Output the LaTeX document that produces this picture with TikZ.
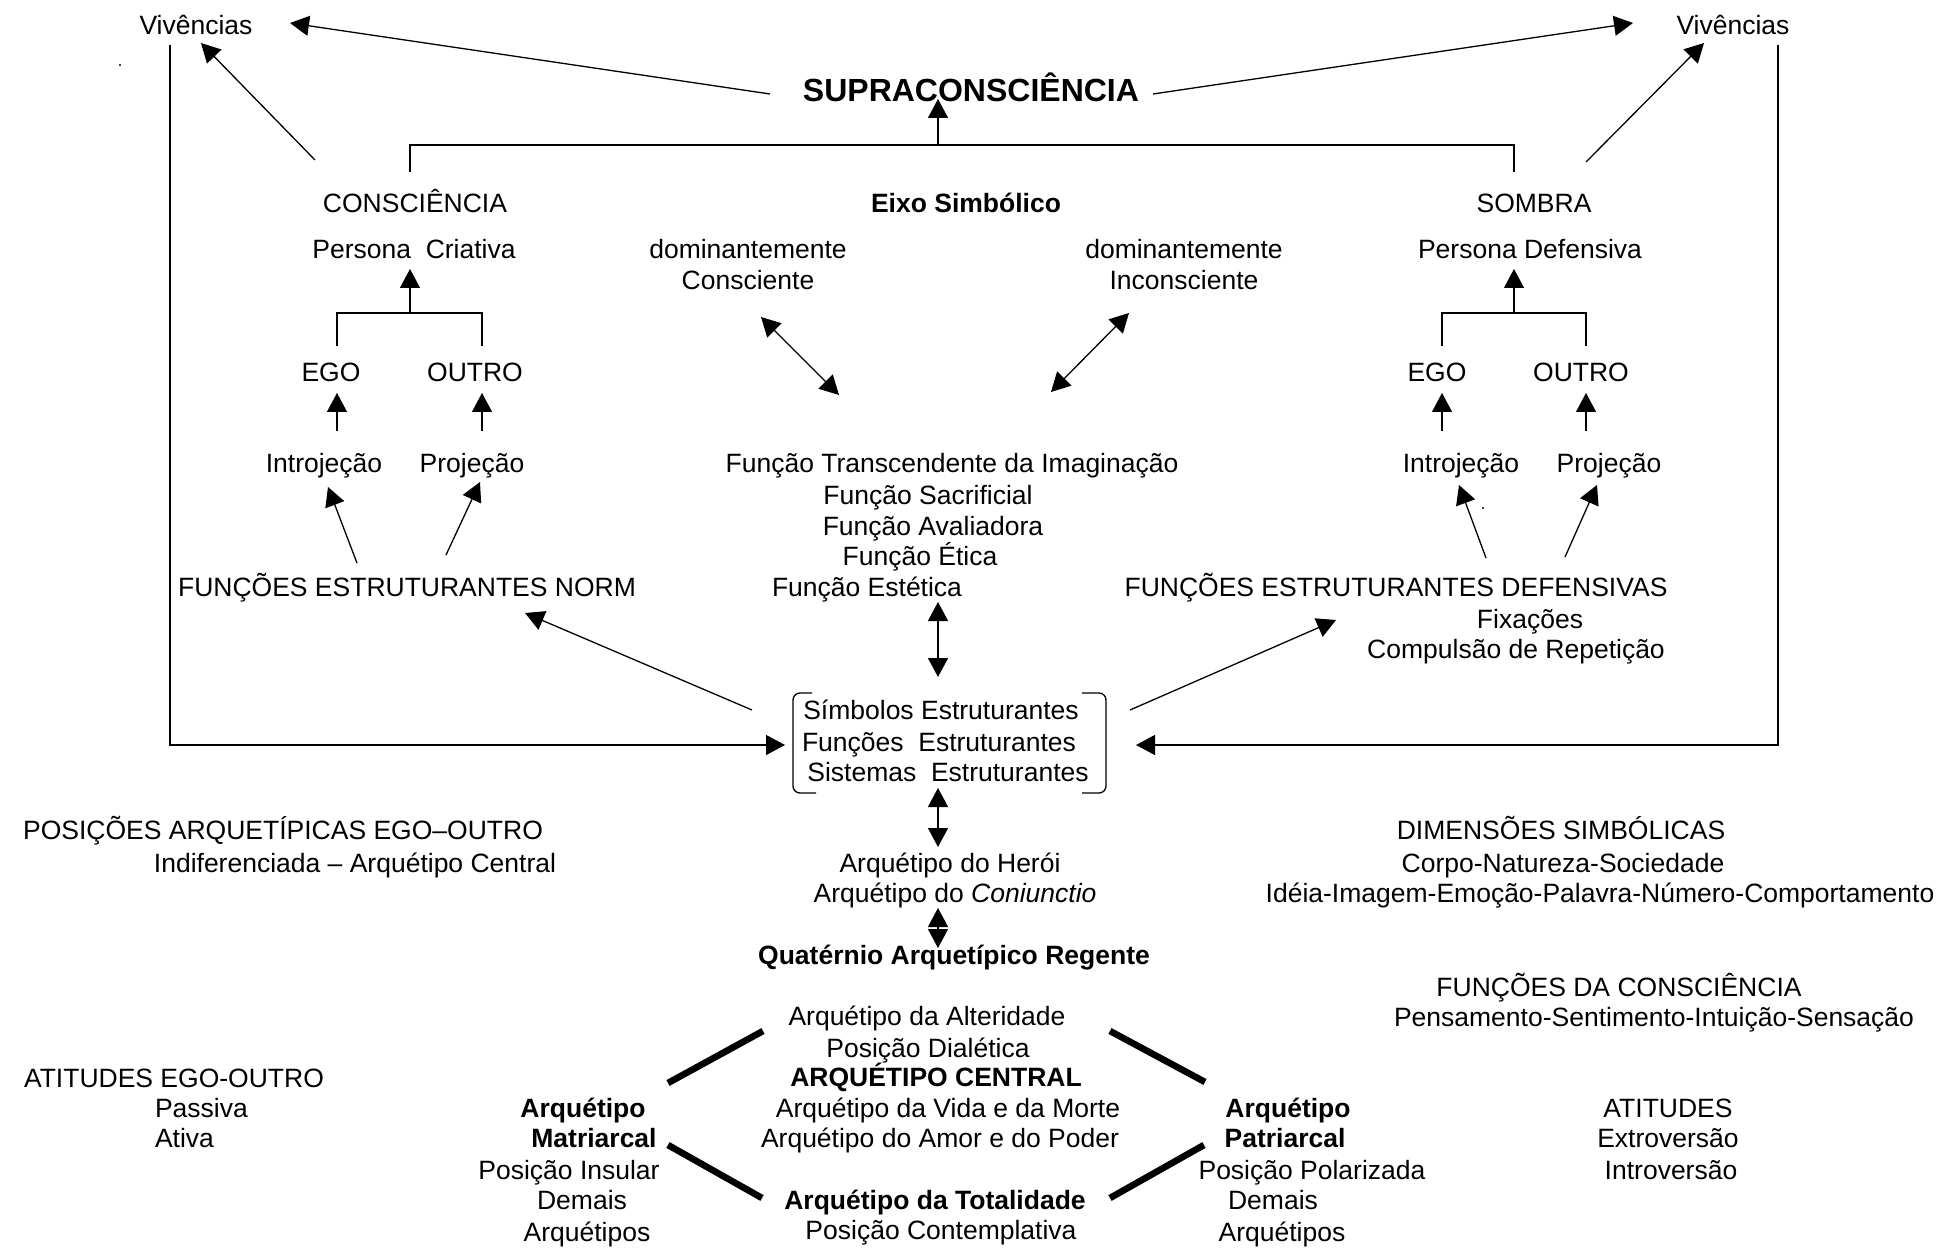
\documentclass[tikz,border=0pt]{standalone}
\usepackage{fontspec}
\setmainfont{Liberation Sans}
\usetikzlibrary{arrows.meta}
\newcommand\fsz{\fontsize{13.25pt}{15.5pt}\selectfont}
\begin{document}
\begin{tikzpicture}[x=0.5pt,y=-0.5pt,
  lbl/.style={inner sep=0pt,outer sep=0pt,text height=11pt,text depth=1.5pt,font=\fsz},
  lblb/.style={lbl,font=\fsz\bfseries},
  ln/.style={line width=0.65pt},
  arr/.style={ln,-{Triangle[length=9.5pt,width=10pt]}},
  darr/.style={ln,{Triangle[length=9.5pt,width=10pt]}-{Triangle[length=9.5pt,width=10pt]}},
  heavy/.style={line width=3.3pt}]
\useasboundingbox (0,0) rectangle (1939,1251);
% top
\node[lbl] (vivL) at (196,25) {Vivências};
\node[lbl] (vivR) at (1733,25) {Vivências};
\node[inner sep=0pt,outer sep=0pt,text height=13pt,text depth=1.5pt,font=\fontsize{16pt}{18pt}\selectfont\bfseries] (supra) at (971,90) {SUPRACONSCIÊNCIA};
\node[lbl] (consc) at (415,203) {CONSCIÊNCIA};
\node[lblb] (eixo) at (966,203) {Eixo Simbólico};
\node[lbl] (sombra) at (1534,203) {SOMBRA};
\node[lbl] (persC) at (414,249) {Persona\ \ Criativa};
\node[lbl] (persD) at (1530,249) {Persona Defensiva};
\node[lbl] (domC1) at (748,249) {dominantemente};
\node[lbl] (domC2) at (748,280) {Consciente};
\node[lbl] (domI1) at (1184,249) {dominantemente};
\node[lbl] (domI2) at (1184,280) {Inconsciente};
\node[lbl] (egoL) at (331,372) {EGO};
\node[lbl] (outL) at (475,372) {OUTRO};
\node[lbl] (egoR) at (1437,372) {EGO};
\node[lbl] (outR) at (1581,372) {OUTRO};
\node[lbl] (introL) at (324,463) {Introjeção};
\node[lbl] (projL) at (472,463) {Projeção};
\node[lbl] (introR) at (1461,463) {Introjeção};
\node[lbl] (projR) at (1609,463) {Projeção};
\node[lbl] (f1) at (952,463) {Função Transcendente da Imaginação};
\node[lbl] (f2) at (928,495) {Função Sacrificial};
\node[lbl] (f3) at (933,526) {Função Avaliadora};
\node[lbl] (f4) at (920,556) {Função Ética};
\node[lbl] (f5) at (867,587) {Função Estética};
\node[lbl] (fenorm) at (407,587) {FUNÇÕES ESTRUTURANTES NORM};
\node[lbl] (fedef) at (1396,587) {FUNÇÕES ESTRUTURANTES DEFENSIVAS};
\node[lbl] (fix) at (1530,619) {Fixações};
\node[lbl] (comp) at (1516,649) {Compulsão de Repetição};
% box
\node[minimum width=156.5pt,minimum height=50pt,inner sep=0pt,outer sep=0pt] (box) at (949.5,743) {};
\node[lbl] (sim1) at (941,710) {Símbolos Estruturantes};
\node[lbl] (sim2) at (939,742) {Funções\ \ Estruturantes};
\node[lbl] (sim3) at (948,772) {Sistemas\ \ Estruturantes};
\draw[ln,rounded corners=3.5pt] ([shift={(19,0)}]box.north west) -- (box.north west) -- (box.south west) -- ([shift={(23,0)}]box.south west);
\draw[ln,rounded corners=3.5pt] ([shift={(-24,0)}]box.north east) -- (box.north east) -- (box.south east) -- ([shift={(-24,0)}]box.south east);
% lower texts
\node[lbl] (pos1) at (283,830) {POSIÇÕES ARQUETÍPICAS EGO–OUTRO};
\node[lbl] (pos2) at (355,863) {Indiferenciada – Arquétipo Central};
\node[lbl] (dim1) at (1561,830) {DIMENSÕES SIMBÓLICAS};
\node[lbl] (dim2) at (1563,863) {Corpo-Natureza-Sociedade};
\node[lbl] (dim3) at (1600,893) {Idéia-Imagem-Emoção-Palavra-Número-Comportamento};
\node[lbl] (heroi) at (950,863) {Arquétipo do Herói};
\node[lbl] (coni) at (955,893) {Arquétipo do \textit{Coniunctio}};
\node[lblb] (quat) at (954,955) {Quatérnio Arquetípico Regente};
\node[lbl] (fdc1) at (1619,987) {FUNÇÕES DA CONSCIÊNCIA};
\node[lbl] (fdc2) at (1654,1017) {Pensamento-Sentimento-Intuição-Sensação};
\node[lbl] (alt) at (927,1016) {Arquétipo da Alteridade};
\node[lbl] (dial) at (928,1048) {Posição Dialética};
\node[lblb] (cent) at (936,1077) {ARQUÉTIPO CENTRAL};
\node[lbl] (vida) at (948,1108) {Arquétipo da Vida e da Morte};
\node[lbl] (amor) at (940,1138) {Arquétipo do Amor e do Poder};
\node[lblb] (tot) at (935,1200) {Arquétipo da Totalidade};
\node[lbl] (cont) at (941,1230) {Posição Contemplativa};
\node[lbl] (att1) at (174,1078) {ATITUDES EGO-OUTRO};
\node[lbl,anchor=west] (pass) at (155,1108) {Passiva};
\node[lbl,anchor=west] (ativa) at (155,1138) {Ativa};
\node[lblb] (matA) at (583,1108) {Arquétipo};
\node[lblb] (matM) at (594,1138) {Matriarcal};
\node[lbl] (ins) at (569,1170) {Posição Insular};
\node[lbl] (demL) at (582,1200) {Demais};
\node[lbl] (arqL) at (587,1232) {Arquétipos};
\node[lblb] (patA) at (1288,1108) {Arquétipo};
\node[lblb] (patP) at (1285,1138) {Patriarcal};
\node[lbl] (pol) at (1312,1170) {Posição Polarizada};
\node[lbl] (demR) at (1273,1200) {Demais};
\node[lbl] (arqR) at (1282,1232) {Arquétipos};
\node[lbl] (atit) at (1668,1108) {ATITUDES};
\node[lbl] (extr) at (1668,1138) {Extroversão};
\node[lbl] (intr) at (1671,1170) {Introversão};
% connectors top
\draw[arr] ([shift={(-201,4)}]supra.center) -- ([shift={(94,-2)}]vivL.center);
\draw[arr] ([shift={(182,4)}]supra.center) -- ([shift={(-100,-2)}]vivR.center);
\draw[arr] ([shift={(-100,-43)}]consc.center) -- ([shift={(5,18)}]vivL.center);
\draw[arr] ([shift={(52,-41)}]sombra.center) -- ([shift={(-29,18)}]vivR.center);
\draw[ln] ([shift={(-5,-31)}]consc.center) -- ++(0,-27) -| ([shift={(-20,-31)}]sombra.center);
\coordinate (brk) at (938,145);
\draw[arr] (brk) -- ([shift={(-33,9)}]supra.center);
% persona bars
\draw[ln] ([shift={(6,-26)}]egoL.center) -- ++(0,-33) -| ([shift={(7,-26)}]outL.center);
\coordinate (barL) at (410,313);
\draw[arr] (barL) -- ([shift={(-4,20)}]persC.center);
\draw[ln] ([shift={(5,-26)}]egoR.center) -- ++(0,-33) -| ([shift={(5,-26)}]outR.center);
\coordinate (barR) at (1514,313);
\draw[arr] (barR) -- ([shift={(-16,20)}]persD.center);
% ego/outro arrows
\draw[arr] ([shift={(13,-32)}]introL.center) -- ([shift={(6,21)}]egoL.center);
\draw[arr] ([shift={(10,-32)}]projL.center) -- ([shift={(7,21)}]outL.center);
\draw[arr] ([shift={(-19,-32)}]introR.center) -- ([shift={(5,21)}]egoR.center);
\draw[arr] ([shift={(-23,-32)}]projR.center) -- ([shift={(5,21)}]outR.center);
% funcoes estruturantes
\draw[arr] ([shift={(-50,-24)}]fenorm.center) -- ([shift={(4,24)}]introL.center);
\draw[arr] ([shift={(39,-32)}]fenorm.center) -- ([shift={(8,19)}]projL.center);
\draw[arr] ([shift={(90,-29)}]fedef.center) -- ([shift={(-2,22)}]introR.center);
\draw[arr] ([shift={(169,-30)}]fedef.center) -- ([shift={(-12,22)}]projR.center);
% eixo
\draw[darr] ([shift={(13,37)}]domC2.center) -- ([shift={(-113,-68)}]f1.center);
\draw[darr] ([shift={(-55,33)}]domI2.center) -- ([shift={(99,-71)}]f1.center);
% central column
\draw[darr] ([shift={(71,15)}]f5.center) -- ([shift={(-11.5,-16)}]box.north);
\draw[darr] ([shift={(-11.5,-5)}]box.south) -- ([shift={(-12,-16)}]heroi.center);
\draw[darr] ([shift={(-17,15)}]coni.center) -- ([shift={(-16,-7)}]quat.center);
\draw[arr] ([shift={(-197.5,-33)}]box.center) -- ([shift={(118,26)}]fenorm.center);
\draw[arr] ([shift={(180.5,-33)}]box.center) -- ([shift={(-60,33)}]fedef.center);
\draw[arr] ([shift={(-26,20)}]vivL.center) |- ([shift={(-8,2)}]box.west);
\draw[arr] ([shift={(45,20)}]vivR.center) |- ([shift={(30,2)}]box.east);
% quaternio
\draw[heavy] ([shift={(85,-25)}]matA.center) -- ([shift={(-164,15)}]alt.center);
\draw[heavy] ([shift={(74,7)}]matM.center) -- ([shift={(-173,-2)}]tot.center);
\draw[heavy] ([shift={(183,15)}]alt.center) -- ([shift={(-83,-26)}]patA.center);
\draw[heavy] ([shift={(175,-2)}]tot.center) -- ([shift={(-81,7)}]patP.center);
% stray dots
\fill (120,65) circle (0.6pt);
\fill (1483,508) circle (0.6pt);
\end{tikzpicture}
\end{document}
